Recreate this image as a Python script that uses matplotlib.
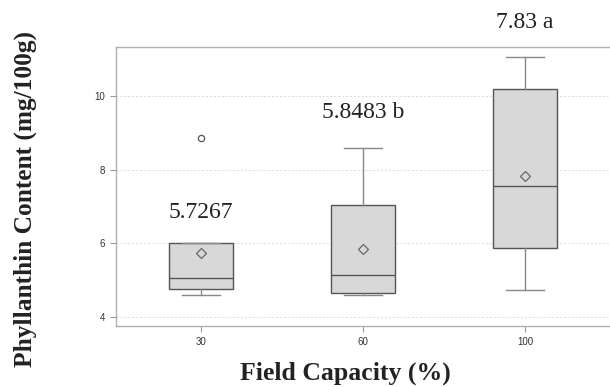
import matplotlib
matplotlib.use("Agg")
import matplotlib.pyplot as plt

# Field capacity treatments and phyllanthin box-plot summaries (mg/100g)
categories = ["30", "60", "100"]
q1 = [4.76, 4.63, 5.86]
medians = [5.04, 5.13, 7.56]
q3 = [6.01, 7.03, 10.20]
whisker_low = [4.58, 4.58, 4.72]
whisker_high = [6.01, 8.59, 11.07]
means = [5.7267, 5.8483, 7.83]
outliers = [[8.86], [], []]
mean_labels = ["5.7267", "5.8483 b", "7.83 a"]
label_y = [6.83, 9.54, 12.0]

fig = plt.figure(figsize=(6.1, 3.87), dpi=100)
ax = fig.add_axes([0.190, 0.158, 0.810, 0.720])

stats = []
for i, name in enumerate(categories):
    stats.append(dict(label=name, q1=q1[i], med=medians[i], q3=q3[i],
                      whislo=whisker_low[i], whishi=whisker_high[i],
                      mean=means[i], fliers=outliers[i]))

positions = list(range(len(categories)))
ax.bxp(stats, positions=positions, widths=0.4, capwidths=0.235,
       showmeans=True, patch_artist=True,
       boxprops=dict(facecolor="#d8d8d8", edgecolor="#555555", linewidth=1.0),
       medianprops=dict(color="#555555", linewidth=1.0),
       whiskerprops=dict(color="#888888", linewidth=1.0),
       capprops=dict(color="#888888", linewidth=1.0),
       meanprops=dict(marker="D", markersize=5, markerfacecolor="none",
                      markeredgecolor="#666666", markeredgewidth=0.9),
       flierprops=dict(marker="o", markersize=4.5, markerfacecolor="none",
                       markeredgecolor="#555555", markeredgewidth=0.9))

for x, txt, y in zip(positions, mean_labels, label_y):
    ax.text(x, y, txt, ha="center", va="center", fontsize=17,
            family="Liberation Serif", color="#222222", clip_on=False)

ax.set_xlim(-0.525, 2.525)
ax.set_ylim(3.747, 11.33)
ax.set_yticks([4, 6, 8, 10])
ax.set_yticklabels(["4", "6", "8", "10"])
ax.set_xticks(positions)
ax.set_xticklabels(categories)

for lab in ax.get_xticklabels() + ax.get_yticklabels():
    lab.set_family("Liberation Sans")
    lab.set_fontsize(7)
    lab.set_color("#333333")

ax.tick_params(axis="both", length=4, width=0.8, color="#999999", pad=4)
ax.yaxis.grid(True, color="#e0e0e0", linestyle=(0, (2, 1.5)), linewidth=0.8)
ax.set_axisbelow(True)

for side in ["top", "left", "bottom"]:
    ax.spines[side].set_color("#b0b0b0")
    ax.spines[side].set_linewidth(1.0)
ax.spines["right"].set_visible(False)

fig.text(0.041, 0.487, "Phyllanthin Content (mg/100g)", rotation=90,
         ha="center", va="center", fontsize=18.3, fontweight="bold",
         family="Liberation Serif", color="#222222")
fig.text(0.567, 0.018, "Field Capacity (%)", ha="center", va="baseline",
         fontsize=18.5, fontweight="bold", family="Liberation Serif",
         color="#222222")

fig.savefig("out.png", dpi=100)
